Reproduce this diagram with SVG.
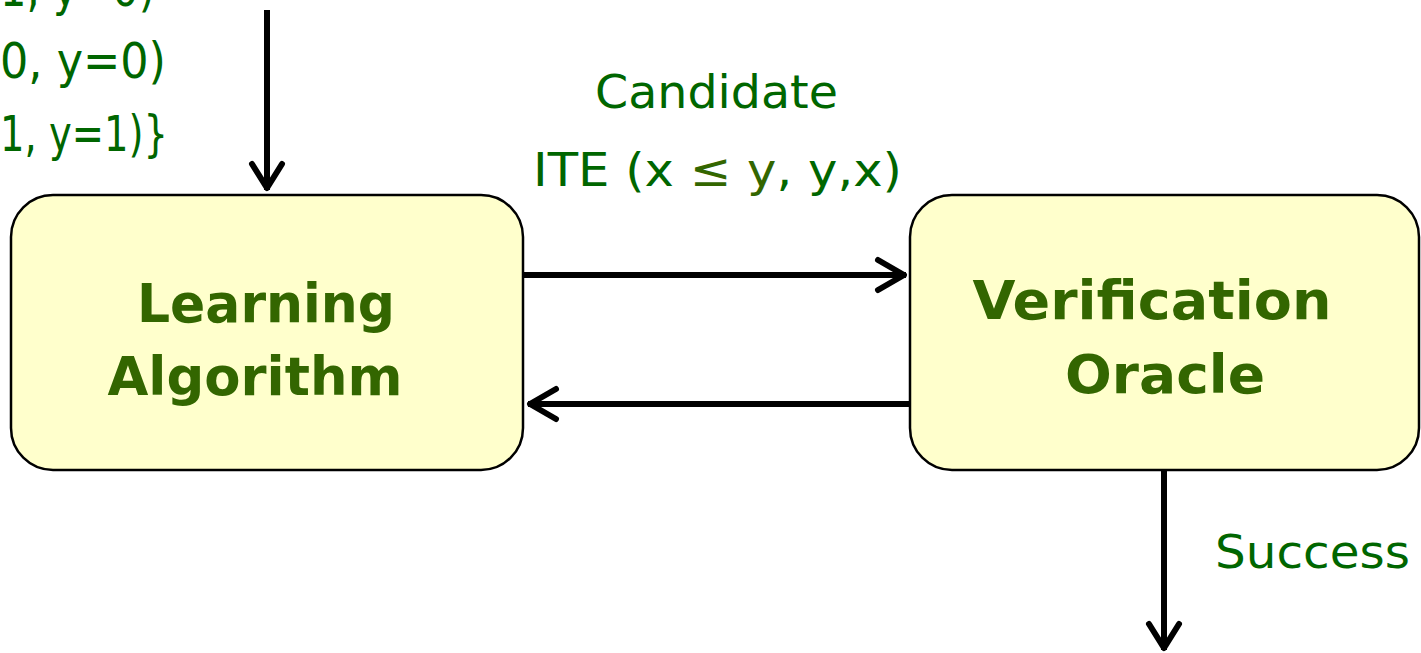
<svg xmlns="http://www.w3.org/2000/svg" width="1421" height="653" viewBox="0 0 1421 653">
<style>
.box{fill:#FFFFCC;stroke:#000;stroke-width:2.5}
.title{font-family:"Comic Sans MS","DejaVu Sans",sans-serif;font-weight:bold;font-size:54px;fill:#336600;text-anchor:middle}
.lbl{font-family:"Comic Sans MS","DejaVu Sans",sans-serif;font-size:46px;fill:#006600}
.big{font-size:50px}
.edge{stroke:#000;stroke-width:6;fill:none}
.head{stroke:#000;stroke-width:6;fill:none;stroke-linecap:round;stroke-linejoin:round}
</style>
<rect width="1421" height="653" fill="#fff"/>
<g id="examples">
<text class="lbl big" x="155" y="6" text-anchor="end" textLength="155" lengthAdjust="spacingAndGlyphs">1, y=0)</text>
<text class="lbl big" x="166" y="78" text-anchor="end" textLength="166" lengthAdjust="spacingAndGlyphs">0, y=0)</text>
<text class="lbl big" x="168" y="151" text-anchor="end" textLength="168" lengthAdjust="spacingAndGlyphs">1, y=1)}</text>
</g>
<g id="learning">
<rect class="box" x="11" y="195" width="512" height="275" rx="42"/>
<text class="title" x="266" y="322" textLength="258" lengthAdjust="spacingAndGlyphs">Learning</text>
<text class="title" x="255" y="395" textLength="295" lengthAdjust="spacingAndGlyphs">Algorithm</text>
</g>
<g id="oracle">
<rect class="box" x="910" y="195" width="509" height="275" rx="42"/>
<text class="title" x="1152" y="319" textLength="359" lengthAdjust="spacingAndGlyphs">Verification</text>
<text class="title" x="1165" y="393" textLength="200" lengthAdjust="spacingAndGlyphs">Oracle</text>
</g>
<g id="connectors">
<line class="edge" x1="267" y1="10" x2="267" y2="190"/>
<path class="head" d="M252,164 L267,188 L282,164"/>
<line class="edge" x1="523" y1="275" x2="906" y2="275"/>
<path class="head" d="M878,260 L904,275 L878,290"/>
<line class="edge" x1="910" y1="404" x2="528" y2="404"/>
<path class="head" d="M556,389 L530,404 L556,419"/>
<line class="edge" x1="1164" y1="470" x2="1164" y2="650"/>
<path class="head" d="M1149,624 L1164,648 L1179,624"/>
</g>
<g id="edge-labels">
<text class="lbl" x="595" y="108" textLength="243" lengthAdjust="spacingAndGlyphs">Candidate</text>
<text class="lbl" x="533" y="186" textLength="369" lengthAdjust="spacingAndGlyphs">ITE (x <tspan fill="#336600">≤ y</tspan>, y,x)</text>
<text class="lbl" x="1215" y="568" textLength="195" lengthAdjust="spacingAndGlyphs">Success</text>
</g>
</svg>
